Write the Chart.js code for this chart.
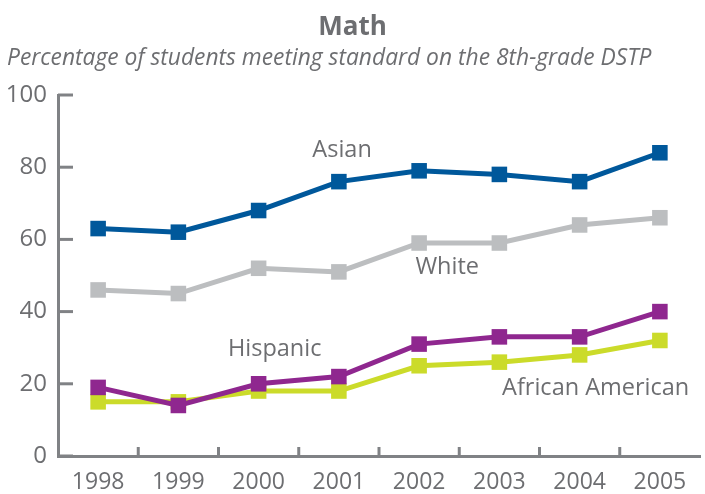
<!DOCTYPE html>
<html>
<head>
<meta charset="utf-8">
<script src="https://cdn.jsdelivr.net/npm/chart.js@4.4.0/dist/chart.umd.min.js"></script>
<style>
html, body { margin: 0; padding: 0; overflow: hidden; background: #fff; width: 705px; height: 494px; }
#chart { position: absolute; left: 0; top: 0; }
.title { position: absolute; left: 0; top: 7px; width: 705px; text-align: center; font: bold 26px 'Open Sans'; color: #6d6e71; }
.sub { position: absolute; left: 7px; top: 41px; font: italic 22.8px 'Open Sans'; color: #6d6e71; white-space: nowrap; }
</style>
</head>
<body>
<canvas id="chart" width="711" height="494"></canvas>
<div class="title">Math</div>
<div class="sub">Percentage of students meeting standard on the 8th-grade DSTP</div>
<script>
const years = ['1998', '1999', '2000', '2001', '2002', '2003', '2004', '2005'];
const asian = [63, 62, 68, 76, 79, 78, 76, 84];
const white = [46, 45, 52, 51, 59, 59, 64, 66];
const hispanic = [19, 14, 20, 22, 31, 33, 33, 40];
const africanAmerican = [15, 15, 18, 18, 25, 26, 28, 32];
const yTicks = [0, 20, 40, 60, 80, 100];

const gray = '#6d6e71';
const axisGray = '#808285';

// where each series name sits, in data units (category index, value)
const seriesLabels = [
    { text: 'Asian', x: 3.04, y: 84.7 },
    { text: 'White', x: 4.35, y: 52.4 },
    { text: 'Hispanic', x: 2.2, y: 29.6 },
    { text: 'African American', x: 6.2, y: 18.8 }
];

function line(label, data, color, order) {
    return {
        label: label,
        data: data,
        borderColor: color,
        backgroundColor: color,
        borderWidth: 5,
        pointStyle: 'rect',
        pointRadius: 11,
        pointHoverRadius: 11,
        pointBorderWidth: 0,
        tension: 0,
        order: order
    };
}

const axisExtras = {
    id: 'axisExtras',
    afterDraw(chart) {
        const ctx = chart.ctx;
        const xs = chart.scales.x, ys = chart.scales.y;
        const area = chart.chartArea;
        ctx.save();
        ctx.strokeStyle = axisGray;
        ctx.lineWidth = 3;
        yTicks.forEach(v => {
            const py = ys.getPixelForValue(v);
            ctx.beginPath();
            ctx.moveTo(area.left, py);
            ctx.lineTo(area.left + 15, py);
            ctx.stroke();
        });
        for (let i = 0; i < years.length - 1; i++) {
            const px = xs.getPixelForValue(i + 0.5);
            ctx.beginPath();
            ctx.moveTo(px, area.bottom);
            ctx.lineTo(px, area.bottom - 9);
            ctx.stroke();
        }
        ctx.fillStyle = gray;
        ctx.font = '23.5px "Open Sans"';
        ctx.textAlign = 'center';
        ctx.textBaseline = 'middle';
        seriesLabels.forEach(l => {
            ctx.fillText(l.text, xs.getPixelForValue(l.x), ys.getPixelForValue(l.y));
        });
        ctx.restore();
    }
};

new Chart(document.getElementById('chart'), {
    type: 'line',
    data: {
        labels: years,
        datasets: [
            line('Asian', asian, '#00589b', 2),
            line('White', white, '#bcbec0', 3),
            line('Hispanic', hispanic, '#8f278f', 1),
            line('African American', africanAmerican, '#cbdb2a', 4)
        ]
    },
    options: {
        responsive: false,
        animation: false,
        layout: { padding: { top: 95, left: 0, right: 0, bottom: 0 } },
        plugins: { legend: { display: false }, tooltip: { enabled: false } },
        scales: {
            x: {
                offset: true,
                grid: { display: false },
                border: { display: true, color: axisGray, width: 3 },
                ticks: { color: gray, font: { family: 'Open Sans', size: 23 }, padding: 5, maxRotation: 0 },
                afterFit(scale) { scale.height = 38; }
            },
            y: {
                min: 0,
                max: 100,
                afterBuildTicks(scale) { scale.ticks = yTicks.map(v => ({ value: v })); },
                grid: { display: false },
                border: { display: true, color: axisGray, width: 3 },
                ticks: { color: gray, font: { family: 'Open Sans', size: 24 }, padding: 3 },
                afterFit(scale) { scale.width = 58; }
            }
        }
    },
    plugins: [axisExtras]
});
</script>
</body>
</html>
